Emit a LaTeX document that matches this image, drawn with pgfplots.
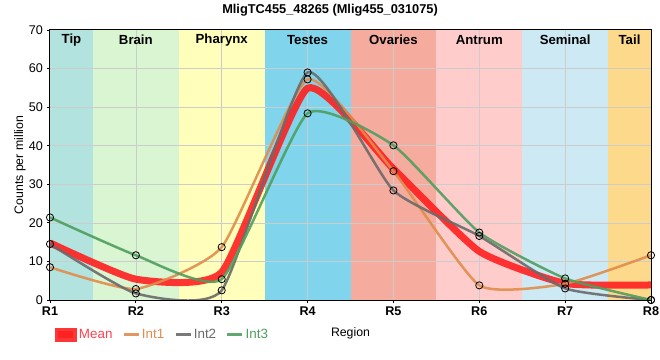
\documentclass[border=0pt]{standalone}
\usepackage{fontspec}
\setmainfont{Liberation Sans}
\usepackage{pgfplots}
\pgfplotsset{compat=1.18}
\definecolor{tipc}{HTML}{B3E3DF}
\definecolor{brainc}{HTML}{D9F5D1}
\definecolor{pharc}{HTML}{FFFFBB}
\definecolor{testc}{HTML}{80D4EB}
\definecolor{ovac}{HTML}{F5AB9E}
\definecolor{antc}{HTML}{FFCCCC}
\definecolor{semc}{HTML}{CDEAF4}
\definecolor{tailc}{HTML}{FDD98C}
\definecolor{meanc}{HTML}{FF2020}
\definecolor{meant}{HTML}{FF4050}
\definecolor{int1c}{HTML}{E08C4C}
\definecolor{int2c}{HTML}{6A6A6A}
\definecolor{int3c}{HTML}{4F9E5F}
\definecolor{gridc}{HTML}{CCCCCC}
\begin{document}
\fontsize{12bp}{14bp}\selectfont
\begin{tikzpicture}
\useasboundingbox (0,0) rectangle (660bp,360bp);
\begin{axis}[
  at={(50bp,60bp)}, anchor=south west,
  scale only axis, width=601bp, height=270bp,
  xmin=1, xmax=8, ymin=0, ymax=70,
  clip marker paths=false,
  xtick={1,2,3,4,5,6,7,8},
  xticklabels={\textbf{R1},\textbf{R2},\textbf{R3},\textbf{R4},\textbf{R5},\textbf{R6},\textbf{R7},\textbf{R8}},
  ytick={0,10,20,30,40,50,60,70},
  /pgf/number format/assume math mode=true,
  tick label style={font=\fontsize{12.6bp}{14bp}\selectfont},
  xtick pos=left, ytick pos=left,
  tick align=outside, major tick length=3bp,
  tick style={black, line width=0.8bp},
  axis line style={black, line width=2bp},
  title={\textbf{MligTC455\_48265 (Mlig455\_031075)}},
  title style={at={(0.466,1)}, anchor=center, yshift=13.5bp, font=\fontsize{12.8bp}{15bp}\selectfont},
  xlabel={Region},
  xlabel style={at={(0.5,0)}, anchor=center, yshift=-33bp, font=\fontsize{12.3bp}{14bp}\selectfont},
  ylabel={Counts per million},
  ylabel style={at={(-0.05,0.5)}, anchor=center, font=\fontsize{12.3bp}{14bp}\selectfont},
  legend style={at={(0.003,-0.128)}, anchor=west, draw=none, fill=none,
    font=\fontsize{13.4bp}{15bp}\selectfont,
    /tikz/every even column/.append style={column sep=8bp}},
  legend columns=4, legend cell align=left,
]
\addplot[fill=tipc, draw=none, forget plot] coordinates {(1,0) (1,70) (1.5,70) (1.5,0)} -- cycle;
\addplot[fill=brainc, draw=none, forget plot] coordinates {(1.5,0) (1.5,70) (2.5,70) (2.5,0)} -- cycle;
\addplot[fill=pharc, draw=none, forget plot] coordinates {(2.5,0) (2.5,70) (3.5,70) (3.5,0)} -- cycle;
\addplot[fill=testc, draw=none, forget plot] coordinates {(3.5,0) (3.5,70) (4.5,70) (4.5,0)} -- cycle;
\addplot[fill=ovac, draw=none, forget plot] coordinates {(4.5,0) (4.5,70) (5.5,70) (5.5,0)} -- cycle;
\addplot[fill=antc, draw=none, forget plot] coordinates {(5.5,0) (5.5,70) (6.5,70) (6.5,0)} -- cycle;
\addplot[fill=semc, draw=none, forget plot] coordinates {(6.5,0) (6.5,70) (7.5,70) (7.5,0)} -- cycle;
\addplot[fill=tailc, draw=none, forget plot] coordinates {(7.5,0) (7.5,70) (8,70) (8,0)} -- cycle;
% grid lines
\addplot[gridc, line width=0.7bp, forget plot] coordinates {(1,10) (8,10)};
\addplot[gridc, line width=0.7bp, forget plot] coordinates {(1,20) (8,20)};
\addplot[gridc, line width=0.7bp, forget plot] coordinates {(1,30) (8,30)};
\addplot[gridc, line width=0.7bp, forget plot] coordinates {(1,40) (8,40)};
\addplot[gridc, line width=0.7bp, forget plot] coordinates {(1,50) (8,50)};
\addplot[gridc, line width=0.7bp, forget plot] coordinates {(1,60) (8,60)};
\addplot[gridc, line width=0.7bp, forget plot] coordinates {(2,0) (2,70)};
\addplot[gridc, line width=0.7bp, forget plot] coordinates {(3,0) (3,70)};
\addplot[gridc, line width=0.7bp, forget plot] coordinates {(4,0) (4,70)};
\addplot[gridc, line width=0.7bp, forget plot] coordinates {(5,0) (5,70)};
\addplot[gridc, line width=0.7bp, forget plot] coordinates {(6,0) (6,70)};
\addplot[gridc, line width=0.7bp, forget plot] coordinates {(7,0) (7,70)};

\addplot[meanc, opacity=0.9, line width=7bp, smooth, tension=0.3,
  legend image code/.code={\fill[meanc] (0bp,-3.5bp) rectangle (15bp,3.5bp);}]
  coordinates {(1,14.8) (2,5.4) (3,7.2) (4,54.9) (5,34.0) (6,12.6) (7,4.3) (8,3.9)};
\addlegendentry{\textcolor{meant}{Mean}}
\addplot[int1c, opacity=0.9, line width=2.5bp, smooth, tension=0.3, mark=o,
  mark options={black, line width=0.8bp, opacity=1}, mark size=3.6bp,
  legend image code/.code={\draw[int1c, line width=2.5bp] (0bp,0bp) -- (15bp,0bp);}]
  coordinates {(1,8.5) (2,2.85) (3,13.7) (4,57.2) (5,33.4) (6,3.8) (7,4.2) (8,11.6)};
\addlegendentry{\textcolor{int1c}{Int1}}
\addplot[int2c, opacity=0.9, line width=2.5bp, smooth, tension=0.3, mark=o,
  mark options={black, line width=0.8bp, opacity=1}, mark size=3.6bp,
  legend image code/.code={\draw[int2c, line width=2.5bp] (0bp,0bp) -- (15bp,0bp);}]
  coordinates {(1,14.5) (2,1.7) (3,2.5) (4,59.0) (5,28.4) (6,16.6) (7,3.0) (8,0)};
\addlegendentry{\textcolor{int2c}{Int2}}
\addplot[int3c, opacity=0.9, line width=2.5bp, smooth, tension=0.3, mark=o,
  mark options={black, line width=0.8bp, opacity=1}, mark size=3.6bp,
  legend image code/.code={\draw[int3c, line width=2.5bp] (0bp,0bp) -- (15bp,0bp);}]
  coordinates {(1,21.4) (2,11.6) (3,5.4) (4,48.4) (5,40.1) (6,17.5) (7,5.6) (8,0)};
\addlegendentry{\textcolor{int3c}{Int3}}

\node[font=\bfseries\fontsize{13.2bp}{15bp}\selectfont] at (axis cs:1.25,67.4) {Tip};
\node[font=\bfseries\fontsize{13.2bp}{15bp}\selectfont] at (axis cs:2,67.4) {Brain};
\node[font=\bfseries\fontsize{13.2bp}{15bp}\selectfont] at (axis cs:3,67.4) {Pharynx};
\node[font=\bfseries\fontsize{13.2bp}{15bp}\selectfont] at (axis cs:4,67.4) {Testes};
\node[font=\bfseries\fontsize{13.2bp}{15bp}\selectfont] at (axis cs:5,67.4) {Ovaries};
\node[font=\bfseries\fontsize{13.2bp}{15bp}\selectfont] at (axis cs:6,67.4) {Antrum};
\node[font=\bfseries\fontsize{13.2bp}{15bp}\selectfont] at (axis cs:7,67.4) {Seminal};
\node[font=\bfseries\fontsize{13.2bp}{15bp}\selectfont] at (axis cs:7.75,67.4) {Tail};
\end{axis}
\end{tikzpicture}
\end{document}
